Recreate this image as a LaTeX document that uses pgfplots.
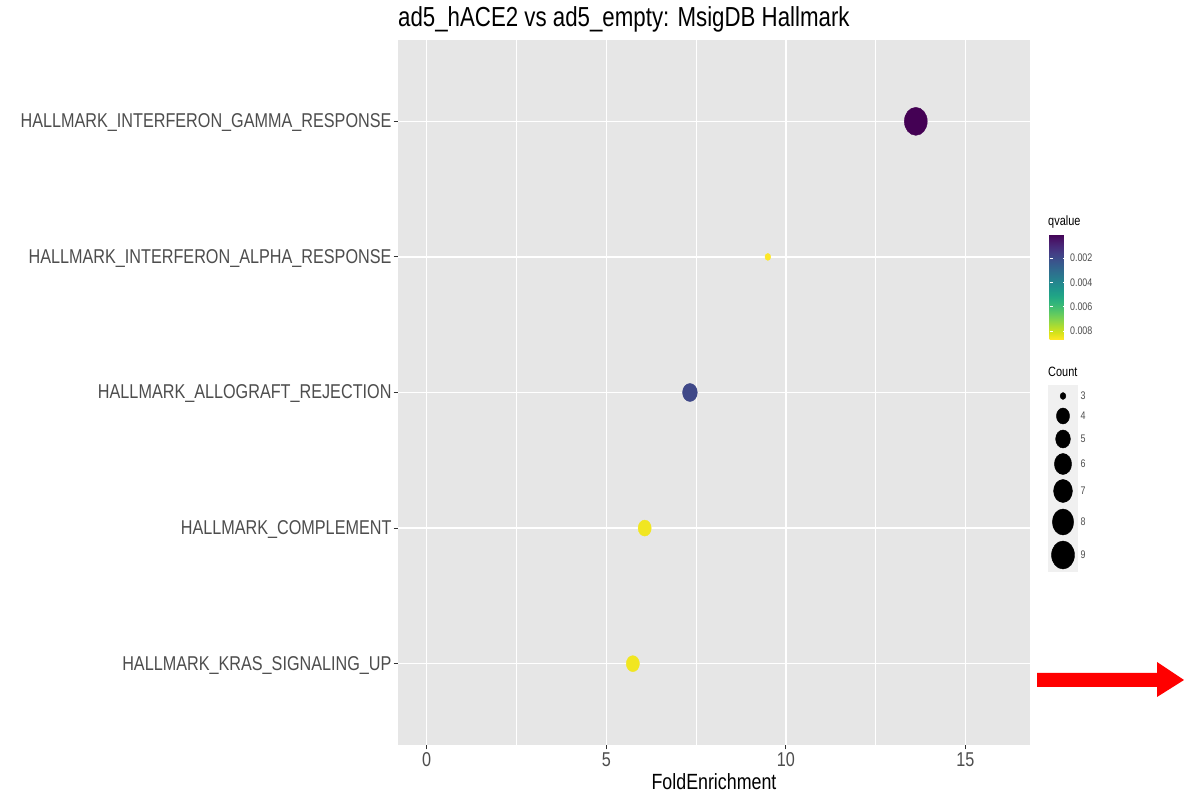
\documentclass[border=0pt]{standalone}
\usepackage{pgfplots}
\pgfplotsset{compat=1.18}
\usepackage{fontspec}
\setmainfont{Liberation Sans}[FakeStretch=0.81]
\definecolor{panelgrey}{RGB}{230,230,230}
\definecolor{keygrey}{RGB}{240,240,240}
\definecolor{tickgrey}{RGB}{51,51,51}
\definecolor{labgrey}{RGB}{77,77,77}
\newcommand{\fs}[1]{\fontsize{#1}{#1}\selectfont}

% pos = row on the y axis (1 = bottom), fe = FoldEnrichment, r = dot radius (px)
\pgfplotstableread{
pos fe    q       count r
5   13.62 0.00003 9     14
4   9.50  0.00866 3     3.5
3   7.33  0.0019  5     9
2   6.07  0.0085  4     8
1   5.74  0.0085  4     8
}\hallmark

\pgfplotstableread{
x   ypos count r
0.5 396  3     3.5
0.5 416  4     8
0.5 439  5     9
0.5 464  6     10.5
0.5 491  7     11.5
0.5 522  8     13
0.5 555  9     14
}\sizekey

\begin{document}
\begin{tikzpicture}
\path[use as bounding box, fill=white] (0pt,0pt) rectangle (1184pt,795pt);
\begin{axis}[
  at={(398pt,50pt)}, anchor=south west,
  scale only axis, width=632pt, height=705pt,
  xmin=-0.8, xmax=16.8, ymin=0.4, ymax=5.6,
  axis background/.style={fill=panelgrey},
  axis line style={draw=none},
  xtick={0,5,10,15}, minor xtick={2.5,7.5,12.5},
  ytick={1,2,3,4,5},
  yticklabels={HALLMARK\_KRAS\_SIGNALING\_UP, HALLMARK\_COMPLEMENT, HALLMARK\_ALLOGRAFT\_REJECTION, HALLMARK\_INTERFERON\_ALPHA\_RESPONSE, HALLMARK\_INTERFERON\_GAMMA\_RESPONSE},
  tick align=outside, major tick length=4.5pt, minor tick length=0pt,
  major tick style={tickgrey, line width=0.9pt},
  xtick pos=bottom, ytick pos=left,
  grid=both,
  major grid style={white, line width=1.4pt},
  minor grid style={white, line width=0.7pt},
  /pgf/number format/assume math mode=true,
  ticklabel style={font=\fs{20}, text=labgrey},
  yticklabel style={anchor=east, xshift=1.5pt, yshift=-1.5pt},
  xticklabel style={anchor=base, yshift=-17pt},
  title={ad5\_hACE2 vs ad5\_empty: MsigDB Hallmark},
  title style={at={(0,1)}, anchor=base west, yshift=7pt, inner sep=0pt, font=\fs{27.5}},
  xlabel={FoldEnrichment},
  xlabel style={at={(0.5,0)}, anchor=base, yshift=-45pt, inner sep=0pt, font=\fs{22}},
  colormap/viridis,
  point meta min=0.00003, point meta max=0.00866,
  colorbar,
  colorbar style={
    at={(parent axis.north east)}, anchor=north west,
    xshift=11pt, yshift=-194pt,
    scale only axis, width=17pt, height=105pt,
    y dir=reverse,
    scaled y ticks=false,
    ytick={0.002,0.004,0.006,0.008},
    yticklabels={0.002,0.004,0.006,0.008},
    yticklabel style={font=\fs{11}, text=labgrey},
    axis line style={draw=none},
    tick align=inside, major tick length=3.5pt,
    ytick pos=both, yticklabel pos=right,
    major tick style={white, line width=0.8pt},
  },
]
\addplot[scatter, only marks, mark=*, point meta=explicit,
  visualization depends on={\thisrow{r}\as\rad},
  scatter/use mapped color={draw=mapped color, fill=mapped color},
  scatter/@pre marker code/.append style={/tikz/mark size=\rad, /tikz/xscale=0.82}]
  table[x=fe, y=pos, meta=q] {\hallmark};
\end{axis}

\begin{axis}[
  at={(1048pt,223pt)}, anchor=south west,
  scale only axis, width=30pt, height=187pt,
  xmin=0, xmax=1, ymin=385, ymax=572, y dir=reverse,
  axis background/.style={fill=keygrey},
  axis line style={draw=none}, xtick=\empty, ytick=\empty, clip=false,
  /pgf/number format/assume math mode=true,
]
\addplot[scatter, only marks, mark=*, point meta=\thisrow{count},
  visualization depends on={\thisrow{r}\as\rad},
  scatter/use mapped color={draw=black, fill=black},
  scatter/@pre marker code/.append style={/tikz/mark size=\rad, /tikz/xscale=0.82}]
  table[x=x, y=ypos] {\sizekey};
\addplot[only marks, mark=none, point meta=\thisrow{count},
  nodes near coords,
  nodes near coords style={anchor=west, xshift=14pt, font=\fs{11}, text=labgrey}]
  table[x=x, y=ypos] {\sizekey};
\end{axis}

\node[anchor=west, inner sep=0pt, font=\fs{13.5}] at (1048pt,573pt) {qvalue};
\node[anchor=west, inner sep=0pt, font=\fs{13.5}] at (1048pt,423pt) {Count};

\fill[red] (1037pt,108pt) -- (1157pt,108pt) -- (1157pt,98pt) -- (1184pt,115pt)
  -- (1157pt,133pt) -- (1157pt,122pt) -- (1037pt,122pt) -- cycle;
\end{tikzpicture}
\end{document}
